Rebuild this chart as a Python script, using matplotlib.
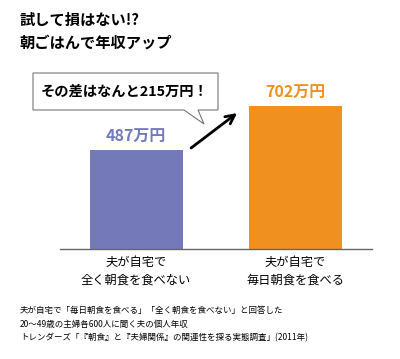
import matplotlib
matplotlib.use("Agg")
import matplotlib.pyplot as plt
from matplotlib.patches import Polygon

plt.rcParams['font.family'] = ['Noto Sans CJK JP', 'DejaVu Sans']

# data
categories = ["夫が自宅で\n全く朝食を食べない", "夫が自宅で\n毎日朝食を食べる"]
incomes = [487, 702]
value_labels = ["487万円", "702万円"]
bar_colors = ["#7479BA", "#F0901E"]
title_lines = ["試して損はない!?", "朝ごはんで年収アップ"]
callout = "その差はなんと215万円！"
notes = [
    "夫が自宅で「毎日朝食を食べる」「全く朝食を食べない」と回答した",
    "20〜49歳の主婦各600人に聞く夫の個人年収",
    "トレンダーズ「『朝食』と『夫婦関係』の関連性を探る実態調査」(2011年)",
]

W, H = 400, 359
fig = plt.figure(figsize=(W / 100, H / 100), dpi=100)
ax = fig.add_axes([60 / W, 110 / H, 312 / W, 189 / H])

xs = list(range(len(categories)))
ax.bar(xs, incomes, width=0.585, color=bar_colors)
for x, v, lab, c in zip(xs, incomes, value_labels, bar_colors):
    ax.text(x, v + 25, lab, ha='center', va='bottom', color=c,
            fontsize=11.5, fontweight='bold')

ax.set_xlim(-0.478, 1.483)
ax.set_ylim(0, 930)
for s in ['top', 'right', 'left']:
    ax.spines[s].set_visible(False)
ax.spines['bottom'].set_color('#666666')
ax.spines['bottom'].set_linewidth(1)
ax.set_yticks([])
ax.set_xticks(xs)
ax.set_xticklabels(categories, fontsize=8.8, linespacing=1.5)
ax.tick_params(axis='x', length=0, pad=5)

# arrow between the bars
ax.annotate("", xy=(0.635, 669), xytext=(0.346, 497),
            arrowprops=dict(arrowstyle='->', color='black', lw=2,
                            mutation_scale=16, shrinkA=0, shrinkB=0))

# callout bubble
def fx(px):
    return px / W

def fy(py):
    return 1 - py / H

box = Polygon([(fx(33), fy(73)), (fx(218), fy(73)), (fx(218), fy(110)),
               (fx(198), fy(110)), (fx(204), fy(124)), (fx(184), fy(110)),
               (fx(33), fy(110))], closed=True, transform=fig.transFigure,
              facecolor='white', edgecolor='#777777', lw=0.8)
fig.patches.append(box)
fig.text(fx(125), fy(92), callout, ha='center', va='center',
         fontsize=10.3, fontweight='bold')

# titles
fig.text(fx(20), fy(20), title_lines[0], ha='left', va='center',
         fontsize=11, fontweight='bold')
fig.text(fx(20), fy(43), title_lines[1], ha='left', va='center',
         fontsize=11, fontweight='bold')

# footnotes
for i, n in enumerate(notes):
    fig.text(fx(20), fy(310 + i * 14), n, ha='left', va='center', fontsize=6.1)

fig.savefig("out.png", dpi=100)
